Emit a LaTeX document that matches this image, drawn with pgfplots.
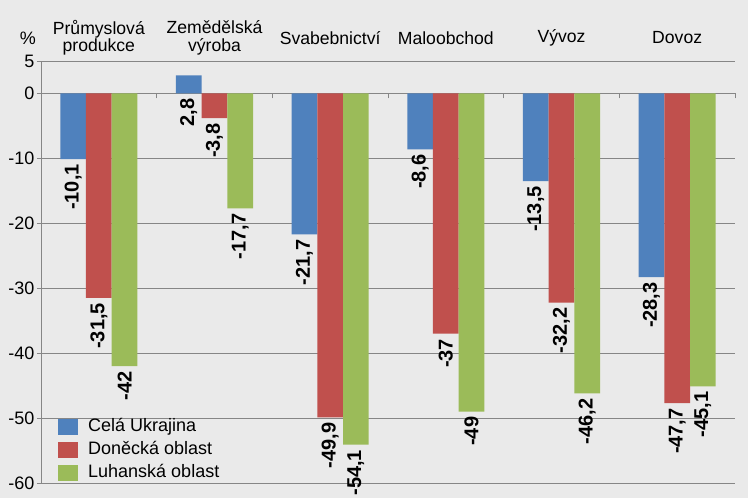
\documentclass[border=0pt]{standalone}
\usepackage{fontspec}
\setmainfont{Liberation Sans}
\usepackage{pgfplots}
\pgfplotsset{compat=1.18}
\definecolor{bgc}{RGB}{234,234,234}
\definecolor{gridc}{RGB}{134,134,134}
\definecolor{cblue}{RGB}{79,129,189}
\definecolor{cred}{RGB}{192,80,77}
\definecolor{cgreen}{RGB}{155,187,89}
\begin{document}
\begin{tikzpicture}[x=1pt,y=1pt]
\fill[bgc] (0,0) rectangle (748,498);
\path[use as bounding box] (0,0) rectangle (748,498);
\pgfplotsset{
  base/.style={
    at={(41pt,15pt)}, anchor=south west,
    scale only axis, width=694pt, height=422pt,
    xmin=-0.5, xmax=5.5, ymin=-60, ymax=5,
  }
}
\begin{axis}[base,
  axis x line=middle, axis y line=none,
  x axis line style={-, draw=gridc, line width=0.8pt},
  xtick={-0.5,0.5,1.5,2.5,3.5,4.5,5.5}, xticklabels={},
  xtick style={draw=gridc, line width=0.8pt},
  xtick align=outside, major tick length=5pt,
  ytick=\empty,
]
\end{axis}
\begin{axis}[base,
  ybar, bar width=25.7pt,
  axis x line*=top, axis y line*=left,
  x axis line style={draw=none},
  y axis line style={-, draw=gridc, line width=0.8pt},
  xtick={0,1,2,3,4,5},
  xtick style={draw=none}, 
  ytick style={draw=gridc, line width=0.8pt},
  ytick align=outside, major tick length=4pt,
  xticklabels={{Průmyslová\\produkce},{Zemědělská\\výroba},Svabebnictví,Maloobchod,Vývoz,Dovoz},
  xticklabel style={align=center, anchor=center, yshift=19pt, font=\fontsize{17.6}{17.4}\selectfont},
  ytick={5,0,-10,-20,-30,-40,-50,-60},
  yticklabels={5,0,-10,-20,-30,-40,-50,-60},
  yticklabel style={font=\fontsize{18}{18}\selectfont, xshift=1pt},
  ymajorgrids, grid style={draw=gridc, line width=0.8pt},
  point meta=explicit symbolic,
  every node near coord/.append style={rotate=90, anchor=east, inner sep=5pt, font=\bfseries\fontsize{20}{20}\selectfont, text=black},
  legend image code/.code={\path[#1, draw=none] (0pt,-8pt) rectangle (20pt,8pt); \path (29pt,0pt);},
  legend style={draw=none, fill=none, at={(0.0245,0.155)}, anchor=north west,
    font=\fontsize{18}{18}\selectfont, inner sep=0pt, row sep=4.5pt,
    nodes={inner sep=1pt, text height=12.5pt, text depth=4pt}},
  legend cell align=left,
]
\addplot[fill=cblue, draw=none, bar shift=-25.7pt] coordinates {
  (0,-10.1) (1,2.8) (2,-21.7) (3,-8.6) (4,-13.5) (5,-28.3)};
\addlegendentry{Celá Ukrajina}
\addplot[fill=cred, draw=none, bar shift=0pt, nodes near coords] coordinates {
  (0,-31.5) [-31,5] (1,-3.8) [-3,8] (2,-49.9) [-49,9] (3,-37) [-37] (4,-32.2) [-32,2] (5,-47.7) [-47,7]};
\addlegendentry{Doněcká oblast}
\addplot[fill=cgreen, draw=none, bar shift=25.7pt, nodes near coords] coordinates {
  (0,-42) [-42] (1,-17.7) [-17,7] (2,-54.1) [-54,1] (3,-49) [-49] (4,-46.2) [-46,2] (5,-45.1) [-45,1]};
\addlegendentry{Luhanská oblast}
\addplot[draw=none, fill=none, bar shift=-25.7pt, nodes near coords, forget plot] coordinates {
  (0,-10.1) [-10,1] (1,0) [2,8] (2,-21.7) [-21,7] (3,-8.6) [-8,6] (4,-13.5) [-13,5] (5,-28.3) [-28,3]};
\end{axis}
\node[font=\fontsize{18}{18}\selectfont] at (28,460) {\%};
\end{tikzpicture}
\end{document}
